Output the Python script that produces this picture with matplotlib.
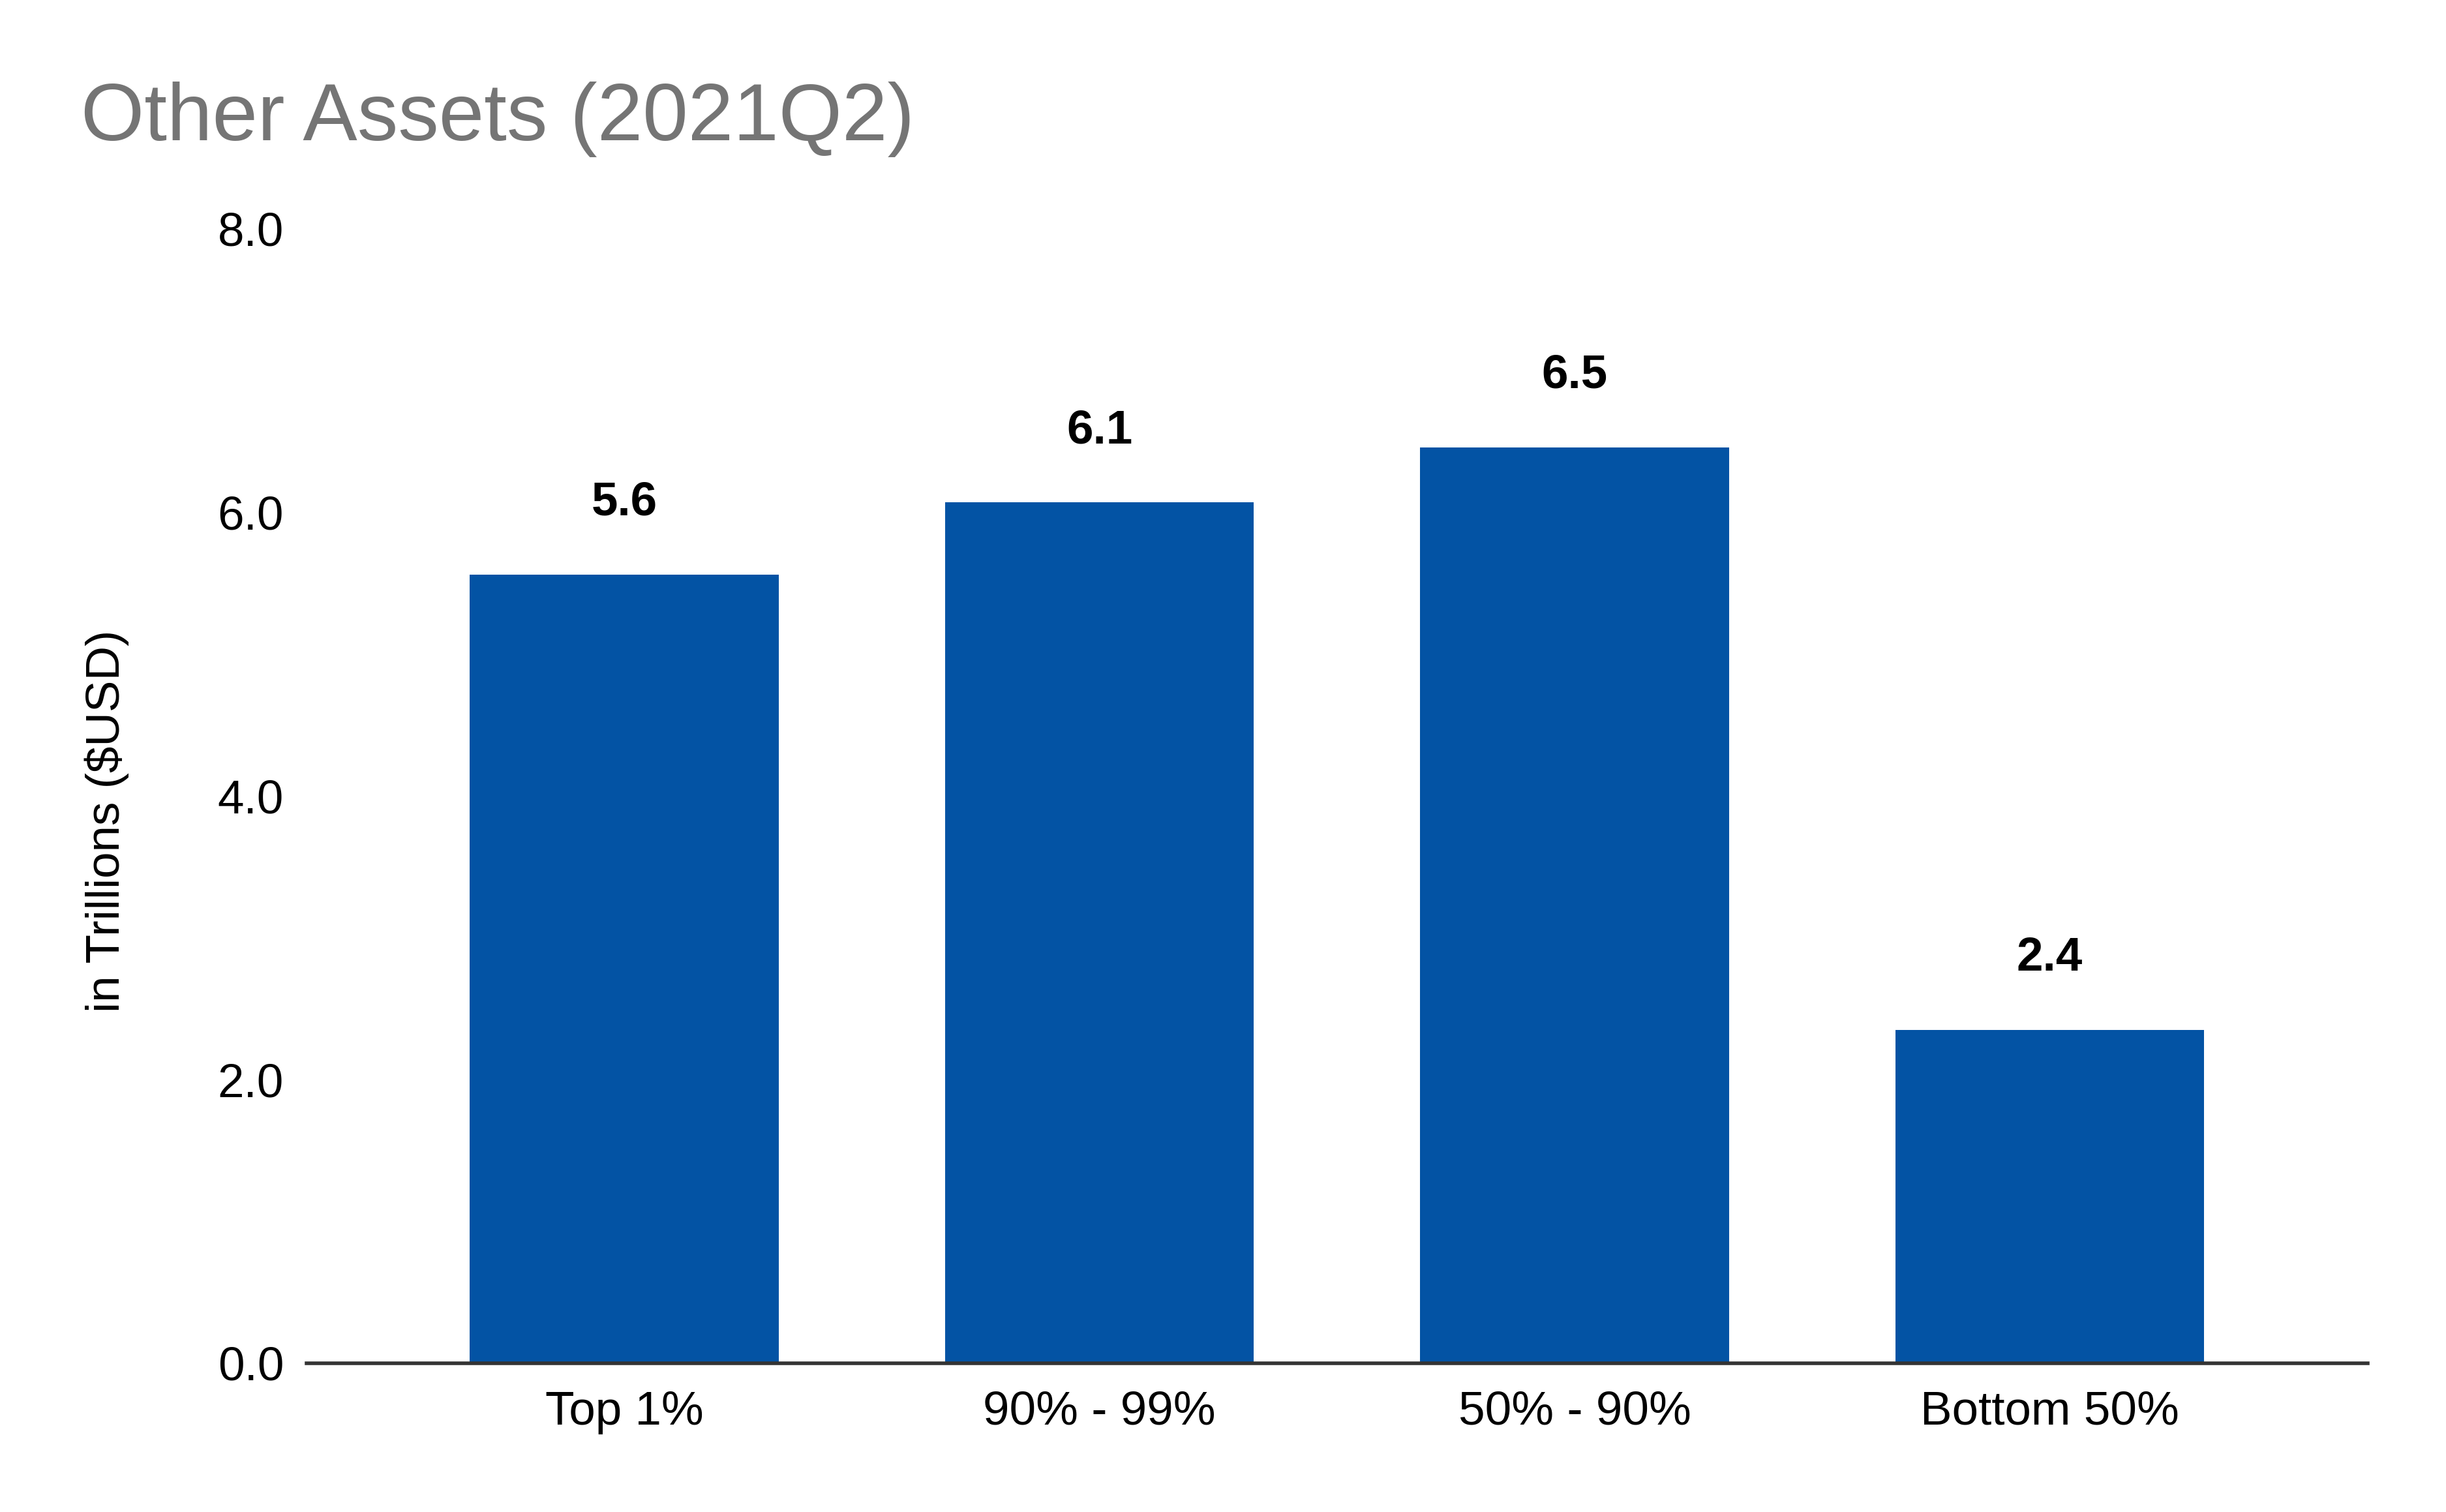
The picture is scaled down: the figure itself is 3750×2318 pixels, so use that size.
import matplotlib
matplotlib.use("Agg")
import matplotlib.pyplot as plt

categories = ["Top 1%", "90% - 99%", "50% - 90%", "Bottom 50%"]
values = [5.56, 6.07, 6.46, 2.35]
yticks = [0.0, 2.0, 4.0, 6.0, 8.0]

plt.rcParams['font.family'] = ['Liberation Sans', 'DejaVu Sans']

fig = plt.figure(figsize=(15, 9.272), dpi=250)
ax = fig.add_axes([0.1253, 0.0984, 0.8426, 0.7502])

x = list(range(len(categories)))
bars = ax.bar(x, values, width=0.65, color="#0353a4", zorder=2)
for xi, v in zip(x, values):
    ax.annotate(f"{v:.1f}", xy=(xi, v), xytext=(0, 22), textcoords="offset points",
                ha="center", va="bottom", fontsize=21, fontweight="bold", color="black")

ax.set_xlim(-0.669, 3.669)
ax.set_ylim(0, 8)
ax.set_yticks(yticks)
ax.set_yticklabels([f"{t:.1f}" for t in yticks], fontsize=21)
ax.set_xticks(x)
ax.set_xticklabels(categories, fontsize=21)
ax.tick_params(axis="both", length=0)
ax.tick_params(axis="y", pad=10)
ax.tick_params(axis="x", pad=12)
for s in ["top", "right", "left"]:
    ax.spines[s].set_visible(False)
ax.spines["bottom"].set_color("#333333")
ax.spines["bottom"].set_linewidth(1.6)
ax.spines["bottom"].set_zorder(3)

ax.set_ylabel("in Trillions ($USD)", fontsize=21)
ax.yaxis.set_label_coords(-0.086, 0.478)

fig.text(124/3750, 1 - 215/2318, "Other Assets (2021Q2)", fontsize=36, color="#757575",
         ha="left", va="baseline")

fig.savefig("out.png", dpi=250, facecolor="white")
